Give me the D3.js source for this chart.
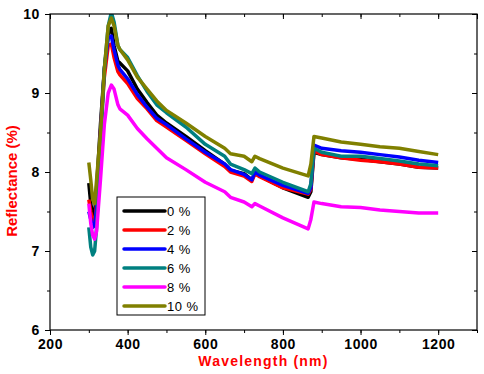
<!DOCTYPE html>
<html>
<head>
<meta charset="utf-8">
<script src="https://cdn.jsdelivr.net/npm/d3@7"></script>
<style>
  body { margin: 0; background: #fff; }
  text { font-family: Arial, "Liberation Sans", sans-serif; }
</style>
</head>
<body>
<div id="container"></div>
<script>
const width = 484;
const height = 374;
const margin = {top: 14, right: 7, bottom: 44, left: 50};

// wavelength (nm)
let wavelength = [300, 305, 310, 315, 320, 330, 340, 350, 358, 365, 375, 380, 400, 425, 450, 475, 500, 550, 600, 650, 665, 700, 720, 728, 740, 800, 865, 872, 880, 900, 950, 1000, 1050, 1100, 1150, 1200];

// reflectance (%) per doping level
let r0 = [7.86, 7.6, 7.45, 7.48, 7.8, 8.6, 9.3, 9.75, 9.82, 9.6, 9.4, 9.38, 9.28, 9.05, 8.88, 8.72, 8.62, 8.45, 8.27, 8.1, 8.02, 7.98, 7.9, 7.98, 7.95, 7.8, 7.68, 7.75, 8.25, 8.22, 8.18, 8.16, 8.13, 8.1, 8.06, 8.05];
let r2 = [7.65, 7.5, 7.38, 7.35, 7.6, 8.5, 9.2, 9.6, 9.62, 9.45, 9.27, 9.23, 9.12, 8.93, 8.8, 8.65, 8.57, 8.4, 8.23, 8.07, 8.0, 7.95, 7.88, 7.98, 7.94, 7.8, 7.72, 7.78, 8.27, 8.22, 8.18, 8.15, 8.13, 8.1, 8.06, 8.05];
let r4 = [7.5, 7.4, 7.3, 7.32, 7.55, 8.5, 9.3, 9.7, 9.72, 9.55, 9.35, 9.3, 9.18, 8.98, 8.82, 8.68, 8.6, 8.42, 8.25, 8.1, 8.03, 7.97, 7.9, 8.0, 7.96, 7.83, 7.73, 7.8, 8.34, 8.3, 8.27, 8.25, 8.22, 8.19, 8.15, 8.12];
let r6 = [7.3, 7.05, 6.95, 7.0, 7.3, 8.3, 9.3, 9.85, 10.02, 9.9, 9.6, 9.55, 9.45, 9.22, 9.02, 8.85, 8.75, 8.57, 8.35, 8.2, 8.1, 8.03, 7.98, 8.05, 8.0, 7.87, 7.75, 7.85, 8.3, 8.25, 8.2, 8.2, 8.17, 8.14, 8.1, 8.08];
let r8 = [7.6, 7.35, 7.2, 7.15, 7.25, 7.9, 8.6, 9.0, 9.1, 9.05, 8.85, 8.8, 8.72, 8.55, 8.42, 8.3, 8.18, 8.03, 7.87, 7.75, 7.68, 7.62, 7.56, 7.6, 7.57, 7.42, 7.28, 7.4, 7.62, 7.6, 7.56, 7.55, 7.52, 7.5, 7.48, 7.48];
let r10 = [8.12, 7.9, 7.65, 7.6, 7.9, 8.5, 9.3, 9.85, 9.95, 9.85, 9.6, 9.55, 9.42, 9.2, 9.05, 8.9, 8.78, 8.62, 8.45, 8.3, 8.23, 8.2, 8.13, 8.2, 8.17, 8.05, 7.95, 8.1, 8.45, 8.43, 8.38, 8.35, 8.32, 8.3, 8.26, 8.22];

let labels = ['0 %', '2 %', '4 %', '6 %', '8 %', '10 %'];
let colors = ['#000000', '#ff0000', '#0000ff', '#008080', '#ff00ff', '#808000'];
let series = [r0, r2, r4, r6, r8, r10];

let xTicks = [200, 400, 600, 800, 1000, 1200];
let yTicks = [6, 7, 8, 9, 10];

let svg = d3.select('#container')
  .append('svg')
  .attr('width', width)
  .attr('height', height);

let x = d3.scaleLinear().domain([200, 1300]).range([margin.left, width - margin.right]);
let y = d3.scaleLinear().domain([6, 10]).range([height - margin.bottom, margin.top]);

svg.append('clipPath').attr('id', 'clip')
  .append('rect')
  .attr('x', margin.left).attr('y', margin.top)
  .attr('width', width - margin.right - margin.left)
  .attr('height', height - margin.bottom - margin.top);

// lines
let line = d3.line()
  .x((d, i) => x(wavelength[i]))
  .y(d => y(d));

let lines = svg.append('g').attr('clip-path', 'url(#clip)');
series.forEach(function(s, k){
  lines.append('path')
    .datum(s)
    .attr('d', line)
    .attr('fill', 'none')
    .attr('stroke', colors[k])
    .attr('stroke-width', 3.5)
    .attr('stroke-linejoin', 'round');
});

// axes
let xMinor = d3.range(200, 1301, 100);
let yMinor = d3.range(6, 10.01, 0.5);

svg.append('g').attr('transform', 'translate(0,' + (height - margin.bottom) + ')')
  .call(d3.axisBottom(x).tickValues(xMinor).tickSize(3).tickFormat(''));
svg.append('g').attr('transform', 'translate(0,' + (height - margin.bottom) + ')')
  .call(d3.axisBottom(x).tickValues(xTicks).tickSize(5).tickPadding(4).tickFormat(d3.format('d')));

svg.append('g').attr('transform', 'translate(0,' + margin.top + ')')
  .call(d3.axisBottom(x).tickValues(xMinor).tickSize(3).tickFormat(''));
svg.append('g').attr('transform', 'translate(0,' + margin.top + ')')
  .call(d3.axisBottom(x).tickValues(xTicks.concat([1300])).tickSize(5).tickFormat(''));

svg.append('g').attr('transform', 'translate(' + margin.left + ',0)')
  .call(d3.axisLeft(y).tickValues(yMinor).tickSize(3).tickFormat(''));
svg.append('g').attr('transform', 'translate(' + margin.left + ',0)')
  .call(d3.axisLeft(y).tickValues(yTicks).tickSize(5).tickPadding(5).tickFormat(d3.format('d')));

svg.append('g').attr('transform', 'translate(' + (width - margin.right) + ',0)')
  .call(d3.axisLeft(y).tickValues(yMinor).tickSize(3).tickFormat(''));
svg.append('g').attr('transform', 'translate(' + (width - margin.right) + ',0)')
  .call(d3.axisLeft(y).tickValues(yTicks).tickSize(5).tickFormat(''));

svg.selectAll('.domain').remove();
svg.selectAll('.tick line').attr('stroke', '#000').attr('stroke-width', 1);
svg.selectAll('.tick text')
  .attr('fill', '#000')
  .style('font-size', '14px')
  .style('font-weight', 'bold')
  .style('letter-spacing', '0.6px');

// frame
svg.append('rect')
  .attr('x', margin.left).attr('y', margin.top)
  .attr('width', width - margin.right - margin.left)
  .attr('height', height - margin.bottom - margin.top)
  .attr('fill', 'none')
  .attr('stroke', '#000')
  .attr('stroke-width', 1.2);

// axis titles
svg.append('text')
  .attr('x', (margin.left + width - margin.right) / 2)
  .attr('y', 366)
  .attr('text-anchor', 'middle')
  .attr('fill', '#ff0000')
  .style('font-size', '14px')
  .style('font-weight', 'bold')
  .style('letter-spacing', '1.2px')
  .text('Wavelength (nm)');

svg.append('text')
  .attr('transform', 'translate(17,181) rotate(-90)')
  .attr('text-anchor', 'middle')
  .attr('fill', '#ff0000')
  .style('font-size', '15px')
  .style('font-weight', 'bold')
  .text('Reflectance (%)');

// legend
let legend = svg.append('g').attr('transform', 'translate(117,197)');
legend.append('rect')
  .attr('width', 88).attr('height', 118)
  .attr('fill', '#fff')
  .attr('stroke', '#000')
  .attr('stroke-width', 1);

labels.forEach(function(l, k){
  let ly = 14 + k * 19;
  legend.append('line')
    .attr('x1', 7).attr('x2', 48)
    .attr('y1', ly).attr('y2', ly)
    .attr('stroke', colors[k])
    .attr('stroke-width', 3.5)
    .attr('stroke-linecap', 'round');
  legend.append('text')
    .attr('x', 50).attr('y', ly + 5)
    .attr('fill', '#000')
    .style('font-size', '13px')
    .style('letter-spacing', '0.5px')
    .text(l);
});
</script>
</body>
</html>
